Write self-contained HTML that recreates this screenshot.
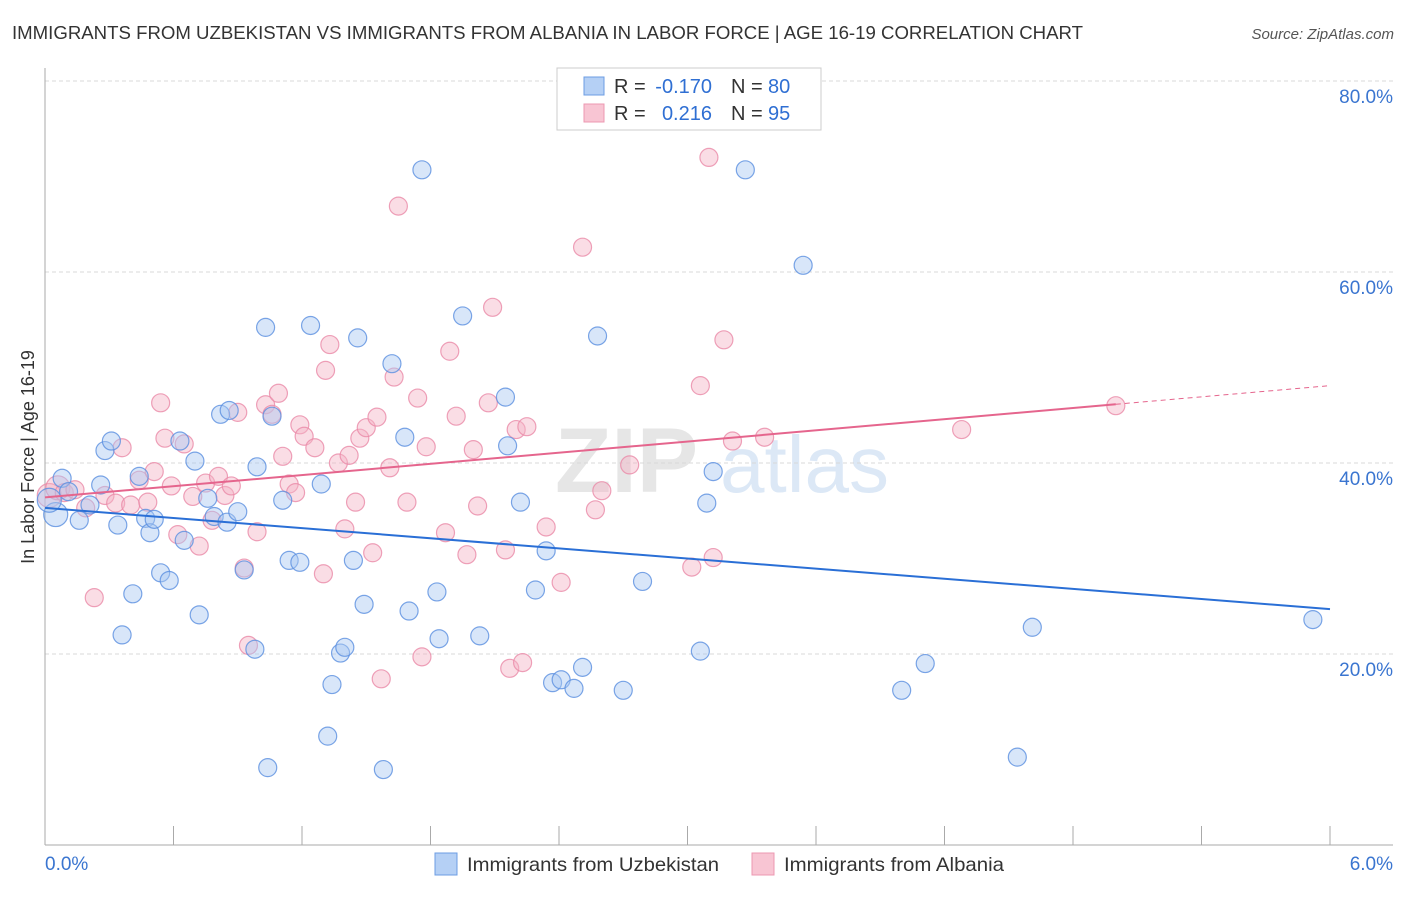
<!DOCTYPE html>
<html><head><meta charset="utf-8"><style>
body{margin:0;background:#fff;font-family:"Liberation Sans",sans-serif}
svg text{font-family:"Liberation Sans",sans-serif}
</style></head><body>
<svg id="chart" width="1406" height="892" xmlns="http://www.w3.org/2000/svg">
<text x="12" y="39" font-size="18" fill="#333" textLength="1071" lengthAdjust="spacingAndGlyphs">IMMIGRANTS FROM UZBEKISTAN VS IMMIGRANTS FROM ALBANIA IN LABOR FORCE | AGE 16-19 CORRELATION CHART</text>
<text x="1394" y="39" font-size="15" fill="#555" text-anchor="end" font-style="italic">Source: ZipAtlas.com</text>
<g><text x="555" y="492" font-size="92" fill="#e6e6e6" font-family="Liberation Serif" font-weight="bold">ZIP</text><text x="720" y="492" font-size="80" fill="#dce8f6">atlas</text></g>
<g id="grid"></g>
<g id="axes"></g>
<g id="pts"></g>
<g id="lines"></g>
<text transform="translate(34,457) rotate(-90)" font-size="18" fill="#333" text-anchor="middle">In Labor Force | Age 16-19</text>
<g font-size="20">
<rect x="557" y="68" width="264" height="62" fill="#fff" stroke="#ccc"/>
<rect x="584" y="77" width="20" height="18" fill="#b5d0f5" stroke="#6c9de3"/>
<rect x="584" y="104" width="20" height="18" fill="#f8c5d3" stroke="#ec98b2"/>
<text x="614" y="93" fill="#333">R =</text><text x="712" y="93" fill="#2f6fd3" text-anchor="end">-0.170</text>
<text x="731" y="93" fill="#333">N =</text><text x="768" y="93" fill="#2f6fd3">80</text>
<text x="614" y="120" fill="#333">R =</text><text x="712" y="120" fill="#2f6fd3" text-anchor="end">0.216</text>
<text x="731" y="120" fill="#333">N =</text><text x="768" y="120" fill="#2f6fd3">95</text>
</g>
<g font-size="19.5">
<rect x="435" y="853" width="22" height="22" fill="#b5d0f5" stroke="#6c9de3"/>
<text x="467" y="871" fill="#333" textLength="252" lengthAdjust="spacingAndGlyphs">Immigrants from Uzbekistan</text>
<rect x="752" y="853" width="22" height="22" fill="#f8c5d3" stroke="#ec98b2"/>
<text x="784" y="871" fill="#333" textLength="220" lengthAdjust="spacingAndGlyphs">Immigrants from Albania</text>
</g>
</svg>
<script>
const blueX=[0.05,0.02,0.08,0.11,0.16,0.21,0.26,0.28,0.31,0.34,0.36,0.41,0.44,0.47,0.49,0.51,0.54,0.58,0.63,0.65,0.70,0.72,0.76,0.79,0.82,0.85,0.86,0.90,0.93,0.98,0.99,1.03,1.04,1.06,1.11,1.14,1.19,1.24,1.29,1.32,1.34,1.38,1.40,1.44,1.46,1.49,1.58,1.62,1.68,1.70,1.76,1.83,1.84,1.95,2.03,2.15,2.16,2.22,2.29,2.34,2.37,2.41,2.47,2.51,2.58,2.70,2.79,3.06,3.09,3.12,3.27,3.54,4.00,4.11,4.54,4.61,5.92];
const blueY=[34.6,36.1,38.4,37.0,34.0,35.6,37.7,41.3,42.3,33.5,22.0,26.3,38.6,34.2,32.7,34.1,28.5,27.7,42.3,31.9,40.2,24.1,36.3,34.4,45.1,33.8,45.5,34.9,28.8,20.5,39.6,54.2,8.1,44.9,36.1,29.8,29.6,54.4,37.8,11.4,16.8,20.1,20.7,29.8,53.1,25.2,7.9,50.4,42.7,24.5,70.7,26.5,21.6,55.4,21.9,46.9,41.8,35.9,26.7,30.8,17.0,17.3,16.4,18.6,53.3,16.2,27.6,20.3,35.8,39.1,70.7,60.7,16.2,19.0,9.2,22.8,23.6];
const pinkX=[0.02,0.06,0.09,0.14,0.19,0.23,0.28,0.33,0.36,0.40,0.44,0.48,0.51,0.54,0.56,0.59,0.62,0.65,0.69,0.72,0.75,0.78,0.81,0.84,0.87,0.90,0.93,0.95,0.99,1.03,1.06,1.09,1.11,1.14,1.17,1.19,1.21,1.26,1.30,1.31,1.33,1.37,1.40,1.42,1.45,1.47,1.50,1.53,1.55,1.57,1.61,1.63,1.65,1.69,1.74,1.76,1.78,1.87,1.89,1.92,1.97,2.00,2.02,2.07,2.09,2.15,2.17,2.20,2.23,2.25,2.34,2.41,2.51,2.57,2.60,2.73,3.02,3.06,3.10,3.12,3.17,3.21,3.36,4.28,5.00];
const pinkY=[36.6,37.4,36.9,37.2,35.3,25.9,36.6,35.8,41.6,35.6,38.2,35.9,39.1,46.3,42.6,37.6,32.5,42.0,36.5,31.3,37.9,34.0,38.6,36.6,37.6,45.3,29.0,20.9,32.8,46.1,45.1,47.3,40.7,37.8,36.9,44.0,42.8,41.6,28.4,49.7,52.4,40.0,33.1,40.8,35.9,42.6,43.7,30.6,44.8,17.4,39.5,49.0,66.9,35.9,46.8,19.7,41.7,32.7,51.7,44.9,30.4,41.4,35.5,46.3,56.3,30.9,18.5,43.5,19.1,43.8,33.3,27.5,62.6,35.1,37.1,39.8,29.1,48.1,72.0,30.1,52.9,42.3,42.7,43.5,46.0];
const blueTrend=[35.3,24.7];
const pinkTrend=[36.4,48.1];
const yTicks=[20,40,60,80];
const xTickLabels=["0.0%","6.0%"];
const NS="http://www.w3.org/2000/svg";
const X0=45,X1=1330,Y0=845,Y80=81;
function sx(v){return X0+(X1-X0)*v/6;}
function sy(v){return Y0-(Y0-Y80)*v/80;}
function mk(t,a,p){const e=document.createElementNS(NS,t);for(const k in a)e.setAttribute(k,a[k]);p.appendChild(e);return e;}
const grid=document.getElementById('grid'),axes=document.getElementById('axes'),pts=document.getElementById('pts'),lines=document.getElementById('lines');
yTicks.forEach(v=>{
 const l=mk('line',{x1:X0,x2:1393,y1:sy(v),y2:sy(v),stroke:'#d8d8d8','stroke-dasharray':'4,3'},grid);
 
 
 const t=mk('text',{x:1393,y:sy(v)+22,'font-size':19,fill:'#3a75d0','text-anchor':'end'},grid);
 t.textContent=v.toFixed(1)+'%';
 
 
});
const ya=mk('line',{x1:X0,x2:X0,y1:68,y2:Y0,stroke:'#aaa'},axes);


const xa=mk('line',{x1:X0,x2:1393,y1:Y0,y2:Y0,stroke:'#aaa'},axes);


for(let i=0;i<=10;i++){const x=sx(i*0.6);const tk=mk('line',{x1:x,x2:x,y1:826,y2:Y0,stroke:'#aaa'},axes);
 
 }
const xl0=mk('text',{x:X0,y:870,'font-size':19,fill:'#3a75d0'},axes);xl0.textContent=xTickLabels[0];


const xl1=mk('text',{x:1393,y:870,'font-size':19,fill:'#3a75d0','text-anchor':'end'},axes);xl1.textContent=xTickLabels[1];


function dots(xs,ys,fill,stroke,name){xs.forEach((x,i)=>{const r=i<2?12:9;
 const c=mk('circle',{cx:sx(x),cy:sy(ys[i]),r:r,fill:fill,'fill-opacity':0.45,stroke:stroke,'stroke-opacity':0.8,'stroke-width':1.2},pts);
 
 });}
dots(pinkX,pinkY,'#f5b3c6','#ea8aa8','albania-point');
dots(blueX,blueY,'#a9c8f2','#5a8ee0','uzbekistan-point');
const bl=mk('line',{x1:sx(0),y1:sy(blueTrend[0]),x2:sx(6),y2:sy(blueTrend[1]),stroke:'#2a6fd6','stroke-width':2},lines);


const pm=pinkTrend[0]+(pinkTrend[1]-pinkTrend[0])*5.0/6;
const pl=mk('line',{x1:sx(0),y1:sy(pinkTrend[0]),x2:sx(5.0),y2:sy(pm),stroke:'#e5658d','stroke-width':2},lines);


const pd=mk('line',{x1:sx(5.0),y1:sy(pm),x2:sx(6),y2:sy(pinkTrend[1]),stroke:'#e5658d','stroke-width':1,'stroke-dasharray':'5,4'},lines);


</script>
</body></html>
